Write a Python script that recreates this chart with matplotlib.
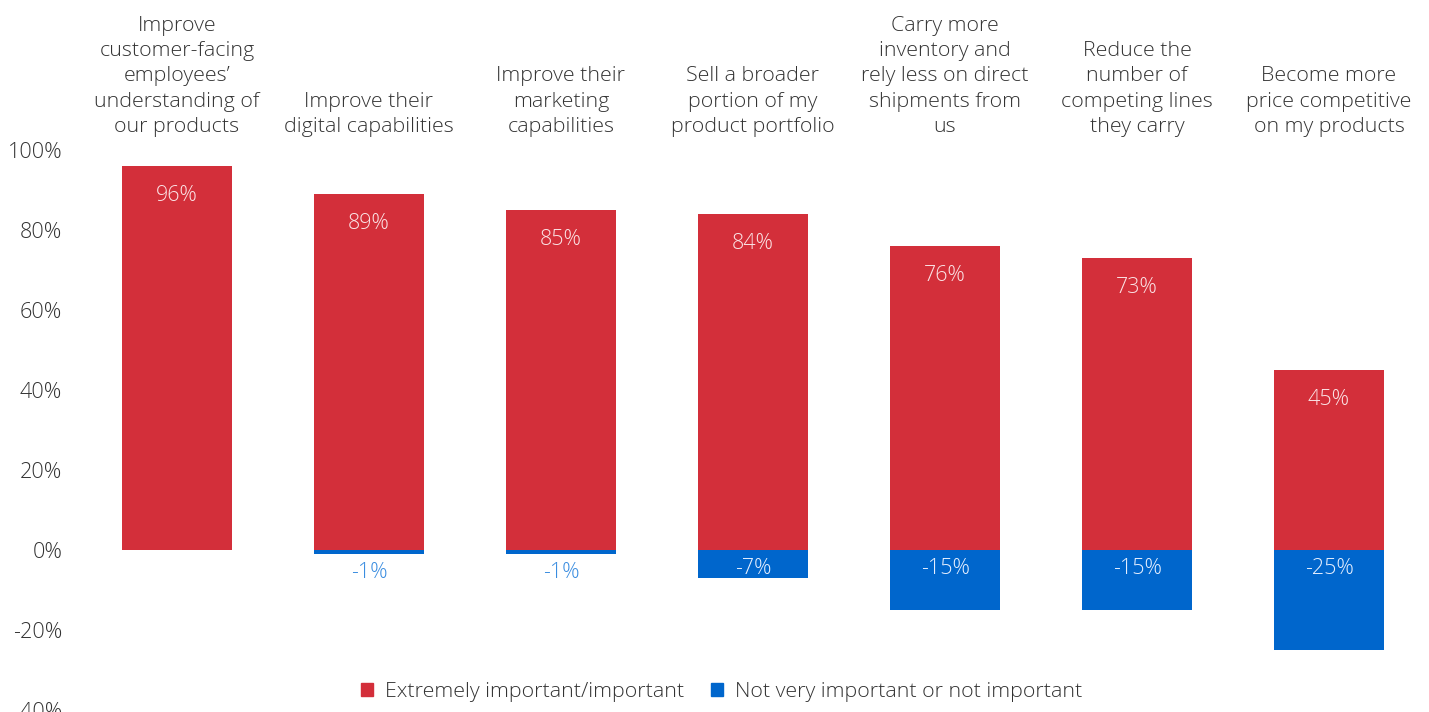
import matplotlib
matplotlib.use('Agg')
import matplotlib.pyplot as plt
from matplotlib.patches import Patch

plt.rcParams['font.family'] = ['Open Sans', 'DejaVu Sans']
plt.rcParams['font.weight'] = 'light'

categories = [
    "Improve\ncustomer-facing\nemployees\u2019\nunderstanding of\nour products",
    "Improve their\ndigital capabilities",
    "Improve their\nmarketing\ncapabilities",
    "Sell a broader\nportion of my\nproduct portfolio",
    "Carry more\ninventory and\nrely less on direct\nshipments from\nus",
    "Reduce the\nnumber of\ncompeting lines\nthey carry",
    "Become more\nprice competitive\non my products",
]
important = [96, 89, 85, 84, 76, 73, 45]
not_important = [0, -1, -1, -7, -15, -15, -25]
yticks = [-40, -20, 0, 20, 40, 60, 80, 100]

RED = '#d32f3a'
BLUE = '#0066cc'
TEXT = '#333333'

fig = plt.figure(figsize=(14.29, 7.12), dpi=100)
ax = fig.add_axes([81 / 1429, 2 / 712, 1344 / 1429, 560 / 712])

x = list(range(len(categories)))
width = 0.573
ax.bar(x, important, width=width, color=RED)
ax.bar(x, not_important, width=width, color=BLUE)

for i, (pos, neg) in enumerate(zip(important, not_important)):
    ax.text(i, pos - 7.4, f"{pos}%", ha='center', va='center',
            color='#fbe3e5', fontsize=15.5)
    if neg < 0:
        if neg > -3:
            # tiny bars: put the label underneath
            ax.text(i, -5.6, f"{neg}%", ha='center', va='center',
                    color='#3a8de0', fontsize=15.5)
        else:
            ax.text(i, -4.6, f"{neg}%", ha='center', va='center',
                    color='#e6efff', fontsize=15.5)
    ax.text(i, 103.2, categories[i], ha='center', va='bottom',
            color=TEXT, fontsize=15.4, linespacing=1.36)

ax.set_xlim(-0.5, len(categories) - 0.5)
ax.set_ylim(-40, 100)
ax.set_yticks(yticks)
ax.set_yticklabels([f"{t}%" for t in yticks], fontsize=15.6, color=TEXT)
ax.tick_params(axis='y', length=0, pad=13.5)
ax.set_xticks([])
for s in ax.spines.values():
    s.set_visible(False)

handles = [Patch(color=RED, label='Extremely important/important'),
           Patch(color=BLUE, label='Not very important or not important')]
fig.legend(handles=handles, loc='center', bbox_to_anchor=(0.505, 1 - 692 / 712),
           ncol=2, frameon=False, handlelength=0.55, handleheight=0.55,
           handletextpad=0.55, columnspacing=1.3, prop={'size': 15.4, 'weight': 'light'},
           labelcolor=TEXT)

fig.savefig('out.png', dpi=100)
